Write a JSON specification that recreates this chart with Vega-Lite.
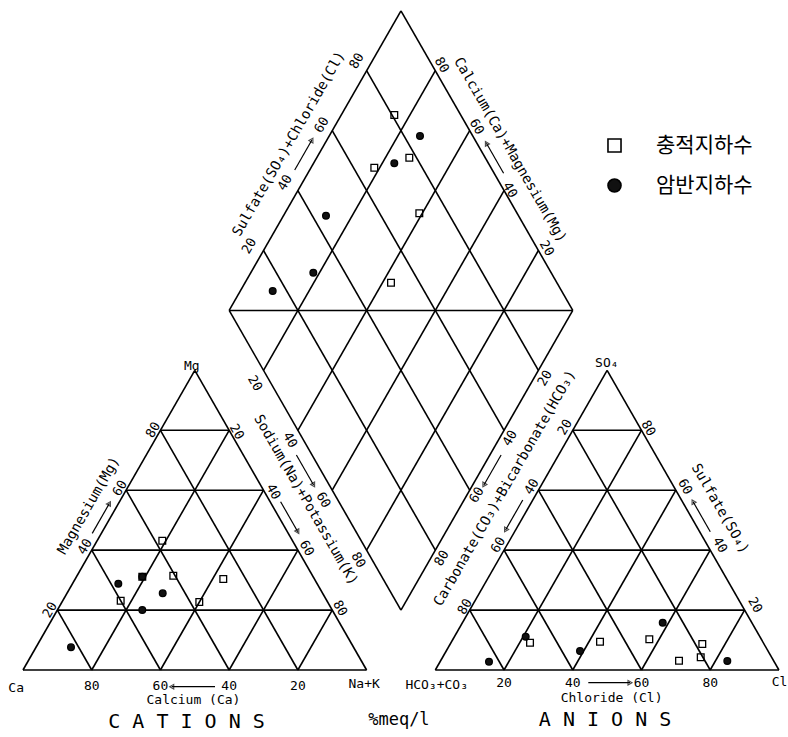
{
  "$schema": "https://vega.github.io/schema/vega-lite/v6.json",
  "width": 788,
  "height": 737,
  "autosize": {"type": "none"},
  "padding": 0,
  "background": "white",
  "config": {"view": {"stroke": null}, "font": "DejaVu Sans Mono"},
  "datasets": {
    "grid": [
      {"x1": 0, "y1": 0, "x2": 100, "y2": 0},
      {"x1": 0, "y1": 0, "x2": 50, "y2": 86.6025},
      {"x1": 100, "y1": 0, "x2": 50, "y2": 86.6025},
      {"x1": 10, "y1": 17.3205, "x2": 90, "y2": 17.3205},
      {"x1": 20, "y1": 34.641, "x2": 80, "y2": 34.641},
      {"x1": 30, "y1": 51.9615, "x2": 70, "y2": 51.9615},
      {"x1": 40, "y1": 69.282, "x2": 60, "y2": 69.282},
      {"x1": 20, "y1": 0, "x2": 60, "y2": 69.282},
      {"x1": 40, "y1": 0, "x2": 70, "y2": 51.9615},
      {"x1": 60, "y1": 0, "x2": 80, "y2": 34.641},
      {"x1": 80, "y1": 0, "x2": 90, "y2": 17.3205},
      {"x1": 20, "y1": 0, "x2": 10, "y2": 17.3205},
      {"x1": 40, "y1": 0, "x2": 20, "y2": 34.641},
      {"x1": 60, "y1": 0, "x2": 30, "y2": 51.9615},
      {"x1": 80, "y1": 0, "x2": 40, "y2": 69.282},
      {"x1": 120, "y1": 0, "x2": 220, "y2": 0},
      {"x1": 120, "y1": 0, "x2": 170, "y2": 86.6025},
      {"x1": 220, "y1": 0, "x2": 170, "y2": 86.6025},
      {"x1": 130, "y1": 17.3205, "x2": 210, "y2": 17.3205},
      {"x1": 140, "y1": 34.641, "x2": 200, "y2": 34.641},
      {"x1": 150, "y1": 51.9615, "x2": 190, "y2": 51.9615},
      {"x1": 160, "y1": 69.282, "x2": 180, "y2": 69.282},
      {"x1": 140, "y1": 0, "x2": 180, "y2": 69.282},
      {"x1": 160, "y1": 0, "x2": 190, "y2": 51.9615},
      {"x1": 180, "y1": 0, "x2": 200, "y2": 34.641},
      {"x1": 200, "y1": 0, "x2": 210, "y2": 17.3205},
      {"x1": 140, "y1": 0, "x2": 130, "y2": 17.3205},
      {"x1": 160, "y1": 0, "x2": 140, "y2": 34.641},
      {"x1": 180, "y1": 0, "x2": 150, "y2": 51.9615},
      {"x1": 200, "y1": 0, "x2": 160, "y2": 69.282},
      {"x1": 110, "y1": 17.3205, "x2": 60, "y2": 103.923},
      {"x1": 110, "y1": 17.3205, "x2": 160, "y2": 103.923},
      {"x1": 60, "y1": 103.923, "x2": 110, "y2": 190.526},
      {"x1": 160, "y1": 103.923, "x2": 110, "y2": 190.526},
      {"x1": 60, "y1": 103.923, "x2": 160, "y2": 103.923},
      {"x1": 100, "y1": 34.641, "x2": 150, "y2": 121.244},
      {"x1": 90, "y1": 51.9615, "x2": 140, "y2": 138.564},
      {"x1": 80, "y1": 69.282, "x2": 130, "y2": 155.885},
      {"x1": 70, "y1": 86.6025, "x2": 120, "y2": 173.205},
      {"x1": 120, "y1": 34.641, "x2": 70, "y2": 121.244},
      {"x1": 130, "y1": 51.9615, "x2": 80, "y2": 138.564},
      {"x1": 140, "y1": 69.282, "x2": 90, "y2": 155.885},
      {"x1": 150, "y1": 86.6025, "x2": 100, "y2": 173.205}
    ],
    "arrows": [
      {"x1": 20.15, "y1": 39.5, "x2": 25.15, "y2": 48.16},
      {"x1": 74.97, "y1": 48.64, "x2": 79.97, "y2": 39.98},
      {"x1": 79.57, "y1": 62.13, "x2": 84.57, "y2": 53.47},
      {"x1": 55.88, "y1": -4.83, "x2": 43.28, "y2": -4.83},
      {"x1": 164.52, "y1": -3.67, "x2": 176.66, "y2": -3.67},
      {"x1": 145.45, "y1": 49.13, "x2": 140.45, "y2": 40.47},
      {"x1": 139.14, "y1": 62.13, "x2": 134.14, "y2": 53.47},
      {"x1": 200.02, "y1": 39.98, "x2": 195.02, "y2": 48.64},
      {"x1": 79.08, "y1": 144.51, "x2": 84.08, "y2": 153.17},
      {"x1": 139.87, "y1": 143.56, "x2": 134.87, "y2": 152.22}
    ],
    "heads": [
      {"x": 25.15, "y": 48.16, "deg": -60},
      {"x": 79.97, "y": 39.98, "deg": 60},
      {"x": 84.57, "y": 53.47, "deg": 60},
      {"x": 43.28, "y": -4.83, "deg": 180},
      {"x": 176.66, "y": -3.67, "deg": 0},
      {"x": 140.45, "y": 40.47, "deg": 120},
      {"x": 134.14, "y": 53.47, "deg": 120},
      {"x": 195.02, "y": 48.64, "deg": -120},
      {"x": 84.08, "y": 153.17, "deg": -60},
      {"x": 134.87, "y": 152.22, "deg": -120}
    ],
    "labels0": [
      {"t": "Ca", "x": -2.0, "y": -5.3},
      {"t": "80", "x": 20, "y": -4.7},
      {"t": "60", "x": 40, "y": -4.6},
      {"t": "40", "x": 60, "y": -4.6},
      {"t": "20", "x": 80, "y": -4.6},
      {"t": "Na+K", "x": 99.3, "y": -4.1},
      {"t": "Mg", "x": 49.1, "y": 88.0},
      {"t": "Calcium (Ca)", "x": 49.6, "y": -8.7},
      {"t": "SO₄", "x": 169.9, "y": 88.6},
      {"t": "HCO₃+CO₃", "x": 120.4, "y": -4.3},
      {"t": "20", "x": 140, "y": -3.8},
      {"t": "40", "x": 160, "y": -3.7},
      {"t": "60", "x": 180, "y": -3.7},
      {"t": "80", "x": 200, "y": -3.7},
      {"t": "Cl", "x": 220.2, "y": -3.4},
      {"t": "Chloride (Cl)", "x": 171.3, "y": -8.0}
    ],
    "titles": [
      {"t": "C A T I O N S", "x": 47.6, "y": -14.9},
      {"t": "A N I O N S", "x": 169.4, "y": -14.5}
    ],
    "unit": [
      {"t": "%meq/l", "x": 109.4, "y": -14.5}
    ],
    "labelsUp": [
      {"t": "20", "x": 7.86, "y": 17.34},
      {"t": "40", "x": 18.04, "y": 35.64},
      {"t": "60", "x": 28.23, "y": 52.51},
      {"t": "80", "x": 37.92, "y": 69.36},
      {"t": "80", "x": 128.64, "y": 18.29},
      {"t": "60", "x": 138.33, "y": 36.13},
      {"t": "40", "x": 148.05, "y": 52.98},
      {"t": "20", "x": 157.74, "y": 70.14},
      {"t": "20", "x": 151.92, "y": 84.3},
      {"t": "40", "x": 141.73, "y": 66.97},
      {"t": "60", "x": 132.04, "y": 50.58},
      {"t": "80", "x": 121.86, "y": 32.28},
      {"t": "20", "x": 65.86, "y": 122.54},
      {"t": "40", "x": 76.25, "y": 140.84},
      {"t": "60", "x": 86.93, "y": 157.51},
      {"t": "80", "x": 97.12, "y": 176.01}
    ],
    "titlesUp": [
      {"t": "Magnesium(Mg)", "x": 19.21, "y": 47.49},
      {"t": "Carbonate(CO₃)+Bicarbonate(HCO₃)", "x": 140.28, "y": 52.51},
      {"t": "Sulfate(SO₄)+Chloride(Cl)", "x": 77.42, "y": 152.02}
    ],
    "labelsDown": [
      {"t": "20", "x": 62.19, "y": 68.87},
      {"t": "40", "x": 72.85, "y": 51.53},
      {"t": "60", "x": 82.57, "y": 35.17},
      {"t": "80", "x": 92.26, "y": 17.83},
      {"t": "20", "x": 67.52, "y": 82.86},
      {"t": "40", "x": 77.71, "y": 66.47},
      {"t": "60", "x": 87.4, "y": 49.13},
      {"t": "80", "x": 97.58, "y": 31.79},
      {"t": "80", "x": 181.98, "y": 69.86},
      {"t": "60", "x": 192.67, "y": 52.98},
      {"t": "40", "x": 202.85, "y": 36.13},
      {"t": "20", "x": 213.04, "y": 18.79},
      {"t": "80", "x": 121.86, "y": 174.86},
      {"t": "60", "x": 132.04, "y": 157.02},
      {"t": "40", "x": 141.73, "y": 138.73},
      {"t": "20", "x": 152.42, "y": 121.88}
    ],
    "titlesDown": [
      {"t": "Sodium(Na)+Potassium(K)", "x": 82.28, "y": 49.13},
      {"t": "Sulfate(SO₄)", "x": 202.85, "y": 46.6},
      {"t": "Calcium(Ca)+Magnesium(Mg)", "x": 141.73, "y": 150.29}
    ],
    "samples": [
      {"x": 13.97, "y": 6.56, "type": "암반지하수"},
      {"x": 27.74, "y": 24.94, "type": "암반지하수"},
      {"x": 34.72, "y": 26.97, "type": "암반지하수"},
      {"x": 40.66, "y": 22.17, "type": "암반지하수"},
      {"x": 34.72, "y": 17.34, "type": "암반지하수"},
      {"x": 40.54, "y": 37.37, "type": "충적지하수"},
      {"x": 43.74, "y": 27.25, "type": "충적지하수"},
      {"x": 58.29, "y": 26.3, "type": "충적지하수"},
      {"x": 28.43, "y": 20.03, "type": "충적지하수"},
      {"x": 51.31, "y": 19.65, "type": "충적지하수"},
      {"x": 34.72, "y": 26.97, "type": "충적지하수"},
      {"x": 135.62, "y": 2.4, "type": "암반지하수"},
      {"x": 146.3, "y": 9.62, "type": "암반지하수"},
      {"x": 162.11, "y": 5.49, "type": "암반지하수"},
      {"x": 186.18, "y": 13.67, "type": "암반지하수"},
      {"x": 204.98, "y": 2.6, "type": "암반지하수"},
      {"x": 147.56, "y": 7.89, "type": "충적지하수"},
      {"x": 167.93, "y": 8.18, "type": "충적지하수"},
      {"x": 182.28, "y": 8.87, "type": "충적지하수"},
      {"x": 190.92, "y": 2.69, "type": "충적지하수"},
      {"x": 197.7, "y": 7.51, "type": "충적지하수"},
      {"x": 197.24, "y": 3.67, "type": "충적지하수"},
      {"x": 115.54, "y": 154.34, "type": "암반지하수"},
      {"x": 108.06, "y": 146.45, "type": "암반지하수"},
      {"x": 88.18, "y": 131.3, "type": "암반지하수"},
      {"x": 84.49, "y": 114.83, "type": "암반지하수"},
      {"x": 72.67, "y": 109.54, "type": "암반지하수"},
      {"x": 108.06, "y": 160.4, "type": "충적지하수"},
      {"x": 112.43, "y": 148.06, "type": "충적지하수"},
      {"x": 102.24, "y": 145.17, "type": "충적지하수"},
      {"x": 115.34, "y": 131.99, "type": "충적지하수"},
      {"x": 107.1, "y": 111.94, "type": "충적지하수"}
    ]
  },
  "layer": [
    {
      "data": {"name": "grid"},
      "mark": {"type": "rule", "color": "black", "strokeWidth": 1.6},
      "encoding": {
        "x": {"field": "x1", "type": "quantitative", "axis": null, "scale": {"domain": [-6.694, 222.64], "nice": false, "zero": false}},
        "y": {"field": "y1", "type": "quantitative", "axis": null, "scale": {"domain": [-19.36, 193.64], "nice": false, "zero": false}},
        "x2": {"field": "x2"},
        "y2": {"field": "y2"}
      }
    },
    {
      "data": {"name": "arrows"},
      "mark": {"type": "rule", "color": "black", "strokeWidth": 1.2},
      "encoding": {
        "x": {"field": "x1", "type": "quantitative", "axis": null},
        "y": {"field": "y1", "type": "quantitative", "axis": null},
        "x2": {"field": "x2"},
        "y2": {"field": "y2"}
      }
    },
    {
      "data": {"name": "heads"},
      "mark": {"type": "point", "shape": "triangle-right", "filled": false, "stroke": "black", "strokeWidth": 1.1, "size": 22},
      "encoding": {
        "x": {"field": "x", "type": "quantitative", "axis": null},
        "y": {"field": "y", "type": "quantitative", "axis": null},
        "angle": {"field": "deg", "type": "quantitative", "scale": null}
      }
    },
    {
      "data": {"name": "labels0"},
      "mark": {"type": "text", "font": "DejaVu Sans Mono", "fontSize": 13, "align": "center", "baseline": "middle", "color": "black"},
      "encoding": {
        "x": {"field": "x", "type": "quantitative", "axis": null},
        "y": {"field": "y", "type": "quantitative", "axis": null},
        "text": {"field": "t"}
      }
    },
    {
      "data": {"name": "titles"},
      "mark": {"type": "text", "font": "DejaVu Sans Mono", "fontSize": 20, "align": "center", "baseline": "middle", "color": "black"},
      "encoding": {
        "x": {"field": "x", "type": "quantitative", "axis": null},
        "y": {"field": "y", "type": "quantitative", "axis": null},
        "text": {"field": "t"}
      }
    },
    {
      "data": {"name": "unit"},
      "mark": {"type": "text", "font": "DejaVu Sans Mono", "fontSize": 17, "align": "center", "baseline": "middle", "color": "black"},
      "encoding": {
        "x": {"field": "x", "type": "quantitative", "axis": null},
        "y": {"field": "y", "type": "quantitative", "axis": null},
        "text": {"field": "t"}
      }
    },
    {
      "data": {"name": "labelsUp"},
      "mark": {"type": "text", "font": "DejaVu Sans Mono", "fontSize": 13, "align": "center", "baseline": "middle", "angle": -60, "color": "black"},
      "encoding": {
        "x": {"field": "x", "type": "quantitative", "axis": null},
        "y": {"field": "y", "type": "quantitative", "axis": null},
        "text": {"field": "t"}
      }
    },
    {
      "data": {"name": "titlesUp"},
      "mark": {"type": "text", "font": "DejaVu Sans Mono", "fontSize": 14, "align": "center", "baseline": "middle", "angle": -60, "color": "black"},
      "encoding": {
        "x": {"field": "x", "type": "quantitative", "axis": null},
        "y": {"field": "y", "type": "quantitative", "axis": null},
        "text": {"field": "t"}
      }
    },
    {
      "data": {"name": "labelsDown"},
      "mark": {"type": "text", "font": "DejaVu Sans Mono", "fontSize": 13, "align": "center", "baseline": "middle", "angle": 60, "color": "black"},
      "encoding": {
        "x": {"field": "x", "type": "quantitative", "axis": null},
        "y": {"field": "y", "type": "quantitative", "axis": null},
        "text": {"field": "t"}
      }
    },
    {
      "data": {"name": "titlesDown"},
      "mark": {"type": "text", "font": "DejaVu Sans Mono", "fontSize": 14, "align": "center", "baseline": "middle", "angle": 60, "color": "black"},
      "encoding": {
        "x": {"field": "x", "type": "quantitative", "axis": null},
        "y": {"field": "y", "type": "quantitative", "axis": null},
        "text": {"field": "t"}
      }
    },
    {
      "data": {"name": "samples"},
      "mark": {"type": "point", "filled": true, "strokeWidth": 1.3, "size": 45, "opacity": 1},
      "encoding": {
        "x": {"field": "x", "type": "quantitative", "axis": null},
        "y": {"field": "y", "type": "quantitative", "axis": null},
        "shape": {
          "field": "type", "type": "nominal",
          "scale": {"domain": ["충적지하수", "암반지하수"], "range": ["square", "circle"]},
          "legend": {"orient": "none", "legendX": 604, "legendY": 135, "title": null, "padding": 0, "labelFont": "Noto Sans CJK KR", "labelFontSize": 21, "labelColor": "black", "labelOffset": 31, "symbolSize": 170, "rowPadding": 18, "symbolStrokeWidth": 1.6}
        },
        "fill": {
          "field": "type", "type": "nominal",
          "scale": {"domain": ["충적지하수", "암반지하수"], "range": ["transparent", "#111111"]},
          "legend": {"orient": "none", "legendX": 604, "legendY": 135, "title": null, "padding": 0, "labelFont": "Noto Sans CJK KR", "labelFontSize": 21, "labelColor": "black", "labelOffset": 31, "symbolSize": 170, "rowPadding": 18, "symbolStrokeWidth": 1.6}
        },
        "stroke": {
          "field": "type", "type": "nominal",
          "scale": {"domain": ["충적지하수", "암반지하수"], "range": ["black", "black"]},
          "legend": {"orient": "none", "legendX": 604, "legendY": 135, "title": null, "padding": 0, "labelFont": "Noto Sans CJK KR", "labelFontSize": 21, "labelColor": "black", "labelOffset": 31, "symbolSize": 170, "rowPadding": 18, "symbolStrokeWidth": 1.6}
        }
      }
    }
  ]
}
